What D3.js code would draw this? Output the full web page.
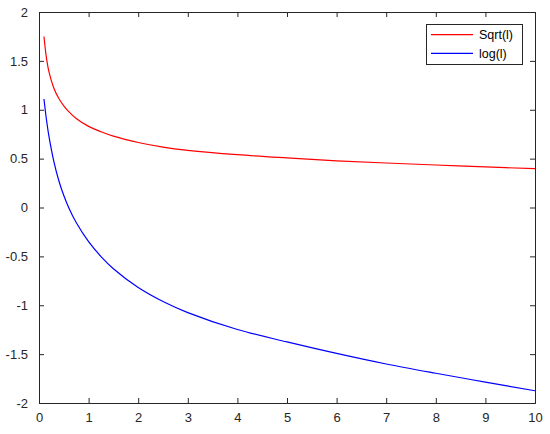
<!DOCTYPE html>
<html>
<head>
<meta charset="utf-8">
<script src="https://cdn.jsdelivr.net/npm/d3@7"></script>
<style>
  html, body { margin: 0; padding: 0; background: #fff; }
  svg { display: block; }
  text { font-family: "Liberation Sans", Arial, sans-serif; }
</style>
</head>
<body>
<svg id="chart" width="550" height="434"></svg>
<script>
// ---- data ----
const xValues    = [0.1, 0.15, 0.2, 0.3, 0.4, 0.5, 0.6, 0.75, 1, 1.25, 1.5, 2, 2.5, 3, 4, 5, 6, 7, 8, 9, 10];
const sqrtValues = [1.75, 1.53, 1.39, 1.22, 1.115, 1.04, 0.98, 0.91, 0.83, 0.775, 0.73, 0.665, 0.618, 0.585, 0.54, 0.507, 0.478, 0.455, 0.435, 0.415, 0.397];
const logValues  = [1.11, 0.90, 0.73, 0.47, 0.274, 0.122, -0.002, -0.154, -0.35, -0.502, -0.626, -0.819, -0.962, -1.075, -1.248, -1.375, -1.493, -1.601, -1.696, -1.786, -1.875];
const seriesNames = ["Sqrt(l)", "log(l)"];
const seriesColors = ["#ff0000", "#0000ff"];
const xTicks = [0, 1, 2, 3, 4, 5, 6, 7, 8, 9, 10];
const yTicks = [-2, -1.5, -1, -0.5, 0, 0.5, 1, 1.5, 2];

// ---- layout ----
const svg = d3.select("#chart");
const L = 39, R = 535, T = 12, B = 403;
const x = d3.scaleLinear().domain([0, 10]).range([L, R]);
const y = d3.scaleLinear().domain([-2, 2]).range([B, T]);
const axisColor = "#262626";
const tickLen = 5;

const fmt = d => String(d);

const gx = svg.append("g").attr("transform", `translate(0,${B})`)
  .call(d3.axisBottom(x).tickValues(xTicks).tickSize(-tickLen).tickPadding(10).tickFormat(fmt));
const gxt = svg.append("g").attr("transform", `translate(0,${T})`)
  .call(d3.axisTop(x).tickValues(xTicks).tickSize(-tickLen).tickFormat(""));
const gy = svg.append("g").attr("transform", `translate(${L},0)`)
  .call(d3.axisLeft(y).tickValues(yTicks).tickSize(-tickLen).tickPadding(11).tickFormat(fmt));
const gyr = svg.append("g").attr("transform", `translate(${R},0)`)
  .call(d3.axisRight(y).tickValues(yTicks).tickSize(-tickLen).tickFormat(""));

[gx, gxt, gy, gyr].forEach(g => {
  g.select(".domain").attr("stroke", axisColor).attr("stroke-width", 1);
  g.selectAll(".tick line").attr("stroke", axisColor).attr("stroke-width", 1);
  g.selectAll(".tick text").attr("fill", axisColor)
    .style("font-family", "'Liberation Sans', Arial, sans-serif").style("font-size", "13px");
});

// ---- lines ----
const series = [sqrtValues, logValues];
const line = d3.line()
  .x((d, i) => x(xValues[i]))
  .y(d => y(d))
  .curve(d3.curveCatmullRom.alpha(0.5));

series.forEach((vals, k) => {
  svg.append("path")
    .datum(vals)
    .attr("fill", "none")
    .attr("stroke", seriesColors[k])
    .attr("stroke-width", 1.2)
    .attr("d", line);
});

// ---- legend ----
const lg = svg.append("g");
lg.append("rect")
  .attr("x", 426.5).attr("y", 24.5).attr("width", 96).attr("height", 40)
  .attr("fill", "#fff").attr("stroke", axisColor).attr("stroke-width", 1);
const rowY = [34.7, 53.3];
seriesNames.forEach((name, k) => {
  lg.append("line")
    .attr("x1", 431).attr("x2", 473)
    .attr("y1", rowY[k]).attr("y2", rowY[k])
    .attr("stroke", seriesColors[k]).attr("stroke-width", 1.2);
  lg.append("text")
    .attr("x", 479).attr("y", rowY[k])
    .attr("dy", "0.35em")
    .attr("fill", "#000")
    .style("font-size", "12.5px")
    .text(name);
});
</script>
</body>
</html>
